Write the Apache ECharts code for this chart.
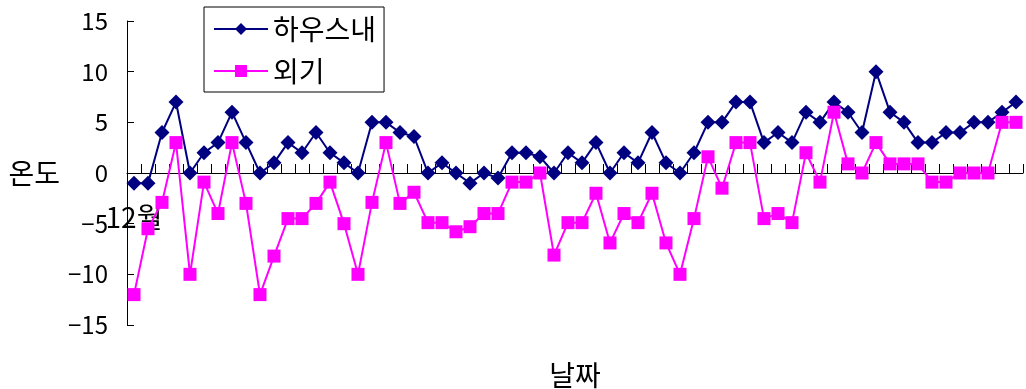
<!DOCTYPE html>
<html>
<head>
<meta charset="utf-8">
<script src="https://cdn.jsdelivr.net/npm/echarts@6/dist/echarts.min.js"></script>
<style>
html,body{margin:0;padding:0;background:#fff;}
#chart{width:1026px;height:389px;}
</style>
</head>
<body>
<div id="chart"></div>
<script>
const seriesNames = ['하우스내', '외기'];
const monthLabel = '12월';
const xAxisName = '날짜';
const yAxisName = '온도';
const yTicks = { min: -15, max: 15, interval: 5 };

const house = [-1, -1, 4, 7, 0, 2, 3, 6, 3, 0, 1, 3, 2, 4, 2, 1,
  0, 5, 5, 4, 3.6, 0, 1, 0, -1, 0, -0.5, 2, 2, 1.6, 0, 2,
  1, 3, 0, 2, 1, 4, 1, 0, 2, 5, 5, 7, 7, 3, 4, 3,
  6, 5, 7, 6, 4, 10, 6, 5, 3, 3, 4, 4, 5, 5, 6, 7];

const outside = [-12, -5.5, -2.9, 3, -10, -0.9, -4, 3, -3, -12, -8.2, -4.5, -4.5, -3, -0.9, -5,
  -10, -2.9, 3, -3, -1.9, -4.9, -4.9, -5.8, -5.3, -4, -4, -0.9, -0.9, 0, -8.1, -4.9,
  -4.9, -2, -6.9, -4, -4.9, -2, -6.9, -10, -4.5, 1.6, -1.5, 3, 3, -4.5, -4, -4.9,
  2, -0.9, 6, 0.9, 0, 3, 0.9, 0.9, 0.9, -0.9, -0.9, 0, 0, 0, 5, 5];

const categories = house.map((_, i) => i === 0 ? monthLabel : '');

const FONT = '"Noto Sans CJK KR", "Noto Sans", sans-serif';

const GRID_TOP = 21, GRID_BOTTOM = 64, H = 389;
const plotH = H - GRID_TOP - GRID_BOTTOM;
// lift the category axis to the zero line of the value axis
const zeroOffset = -plotH * (0 - yTicks.min) / (yTicks.max - yTicks.min);

try {
const chart = echarts.init(document.getElementById('chart'), null, { renderer: 'canvas' });
chart.setOption({
  animation: false,
  backgroundColor: '#fff',
  textStyle: { fontFamily: FONT },
  grid: { left: 127, right: 3, top: GRID_TOP, bottom: GRID_BOTTOM, containLabel: false, outerBoundsMode: 'none' },
  legend: {
    left: 204, top: 7,
    orient: 'vertical',
    borderColor: '#000', borderWidth: 1,
    padding: [8, 8, 7, 9],
    itemGap: 14,
    itemWidth: 54, itemHeight: 15,
    textStyle: { fontSize: 28, color: '#000', fontFamily: FONT },
    data: seriesNames
  },
  xAxis: {
    type: 'category',
    data: categories,
    boundaryGap: true,
    offset: zeroOffset,
    name: xAxisName,
    nameLocation: 'middle',
    nameGap: 188,
    nameTextStyle: { fontSize: 28, color: '#000', fontFamily: FONT },
    axisLine: { show: true, onZero: false, lineStyle: { color: '#000', width: 1 } },
    axisTick: { show: true, inside: true, length: 9, interval: 0, lineStyle: { color: '#000' } },
    axisLabel: { interval: 0, margin: 30, fontSize: 28, color: '#000', fontFamily: FONT },
    splitLine: { show: false }
  },
  yAxis: {
    type: 'value',
    min: yTicks.min, max: yTicks.max, interval: yTicks.interval,
    name: yAxisName,
    nameLocation: 'middle',
    nameRotate: 0,
    nameGap: 67,
    nameTextStyle: { fontSize: 28, color: '#000', fontFamily: FONT },
    axisLine: { show: true, lineStyle: { color: '#000', width: 1 } },
    axisTick: { show: true, inside: true, length: 7, lineStyle: { color: '#000' } },
    axisLabel: {
      margin: 19, fontSize: 24, color: '#000', fontFamily: FONT,
      formatter: v => (v < 0 ? '\u2212' + Math.abs(v) : String(v))
    },
    splitLine: { show: false }
  },
  series: [
    {
      name: seriesNames[0], type: 'line', data: house,
      symbol: 'diamond', symbolSize: 15, z: 3,
      itemStyle: { color: '#000080' },
      lineStyle: { color: '#000080', width: 2 },
      markLine: {
        silent: true, symbol: 'none', label: { show: false }, z: 1,
        lineStyle: { color: '#000', width: 1, type: 'solid' },
        data: [{ yAxis: 0 }]
      }
    },
    {
      name: seriesNames[1], type: 'line', data: outside,
      symbol: 'rect', symbolSize: 13, z: 4,
      itemStyle: { color: '#FF00FF' },
      lineStyle: { color: '#FF00FF', width: 2 }
    }
  ]
});
const zr = chart.getZr();
zr.storage.getDisplayList(true).forEach(el => { if (el.getBoundingRect) el.getBoundingRect(); });
zr.refreshImmediately();
} catch (e) { console.error(e); }
</script>
</body>
</html>
